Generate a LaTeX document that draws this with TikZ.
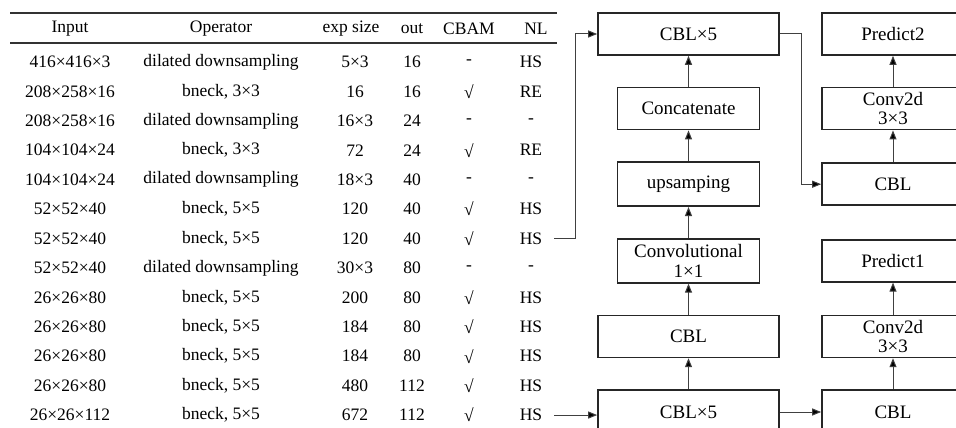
\documentclass[tikz,border=0pt]{standalone}
\usepackage{fontspec}
\setmainfont{Liberation Serif}
\usetikzlibrary{arrows.meta, positioning, calc}
\tikzset{
  cell/.style={
    font=\rmfamily\fontsize{17.5}{19}\selectfont, inner sep=2pt, anchor=center
  },
  tabrule/.style={line width=1.4pt, draw=black!80},
  widebox/.style={
    rectangle, draw=black!85, line width=1.6pt,
    minimum width=181pt, minimum height=42pt,
    font=\rmfamily\fontsize{19}{19.5}\selectfont, align=center, inner sep=2pt
  },
  narrowbox/.style={widebox, minimum width=142pt},
  arr/.style={-{Triangle[length=9pt,width=7pt,fill=black]}, line width=1pt,
    draw=black!75}
}
\begin{document}
\begin{tikzpicture}[x=1pt, y=-1pt, node distance=31pt]
\clip (0,0) rectangle (956,428);

% ── Table: header ───────────────────────────────────────────
\draw[tabrule] (10,13) -- (557,13);
\draw[tabrule] (10,43) -- (557,43);
\node[cell] (hinp) at (70,29)  {Input};
\node[cell] (hop)  at (221,29) {Operator};
\node[cell] (hexp) at (351,29) {exp size};
\node[cell] (hout) at (412,29) {out};
\node[cell] (hcb)  at (469,29) {CBAM};
\node[cell] (hnl)  at (536,29) {NL};

% ── Table: rows ─────────────────────────────────────────────
\foreach \inp/\op/\es/\ou/\cb/\nl [count=\r] in {
  416×416×3/dilated downsampling/5×3/16/-/HS,
  208×258×16/{bneck, 3×3}/16/16/√/RE,
  208×258×16/dilated downsampling/16×3/24/-/-,
  104×104×24/{bneck, 3×3}/72/24/√/RE,
  104×104×24/dilated downsampling/18×3/40/-/-,
  52×52×40/{bneck, 5×5}/120/40/√/HS,
  52×52×40/{bneck, 5×5}/120/40/√/HS,
  52×52×40/dilated downsampling/30×3/80/-/-,
  26×26×80/{bneck, 5×5}/200/80/√/HS,
  26×26×80/{bneck, 5×5}/184/80/√/HS,
  26×26×80/{bneck, 5×5}/184/80/√/HS,
  26×26×80/{bneck, 5×5}/480/112/√/HS,
  26×26×112/{bneck, 5×5}/672/112/√/HS}
{
  \pgfmathsetmacro{\ry}{62+29.42*(\r-1)}
  \node[cell] (in\r)  at (70,\ry)  {\inp};
  \node[cell] (op\r)  at (221,\ry) {\op};
  \node[cell] (es\r)  at (355,\ry) {\es};
  \node[cell] (ou\r)  at (412,\ry) {\ou};
  \node[cell] (cb\r)  at (469,\ry) {\cb};
  \node[cell] (nl\r)  at (531,\ry) {\nl};
}

% ── Neck column ─────────────────────────────────────────────
\node[widebox, minimum height=44pt] (cbl5b) at (688.5,412) {CBL×5};
\node[widebox, above=of cbl5b] (cblm) {CBL};
\node[narrowbox, minimum height=44pt, above=of cblm] (conv1) {%
  Convolutional\\1×1};
\node[narrowbox, minimum height=44pt, above=of conv1] (upsamp) {upsamping};
\node[narrowbox, above=of upsamp] (concat) {Concatenate};
\node[widebox, above=of concat] (cbl5a) {CBL×5};

% ── Head column ─────────────────────────────────────────────
\coordinate (rcol) at (893,0);
\node[narrowbox, minimum height=44pt] (cbl1) at (cbl5b -| rcol) {CBL};
\node[narrowbox] (conv2b) at (cblm -| rcol) {Conv2d\\3×3};
\node[narrowbox] (pred1)  at (conv1 -| rcol) {Predict1};
\node[narrowbox] (cbl2)   at (upsamp -| rcol) {CBL};
\node[narrowbox] (conv2a) at (concat -| rcol) {Conv2d\\3×3};
\node[narrowbox] (pred2)  at (cbl5a -| rcol) {Predict2};

% ── Upward arrows ───────────────────────────────────────────
\draw[arr] (cbl5b)  -- (cblm);
\draw[arr] (cblm)   -- (conv1);
\draw[arr] (conv1)  -- (upsamp);
\draw[arr] (upsamp) -- (concat);
\draw[arr] (concat) -- (cbl5a);

\draw[arr] (cbl1)   -- (conv2b);
\draw[arr] (conv2b) -- (pred1);
\draw[arr] (cbl2)   -- (conv2a);
\draw[arr] (conv2a) -- (pred2);

% ── Cross links ─────────────────────────────────────────────
\draw[arr] (cbl5b.east) -- (cbl1.west);
\draw[arr] (cbl5a.east) -- ++(22,0) |- (cbl2.west);

% ── Table to neck ───────────────────────────────────────────
\draw[arr] ([xshift=10pt]nl7.east) -- ++(21,0) |- (cbl5a.west);
\draw[arr] ([xshift=10pt]nl13.east) -- (cbl5b.west |- nl13.east);

\end{tikzpicture}
\end{document}
